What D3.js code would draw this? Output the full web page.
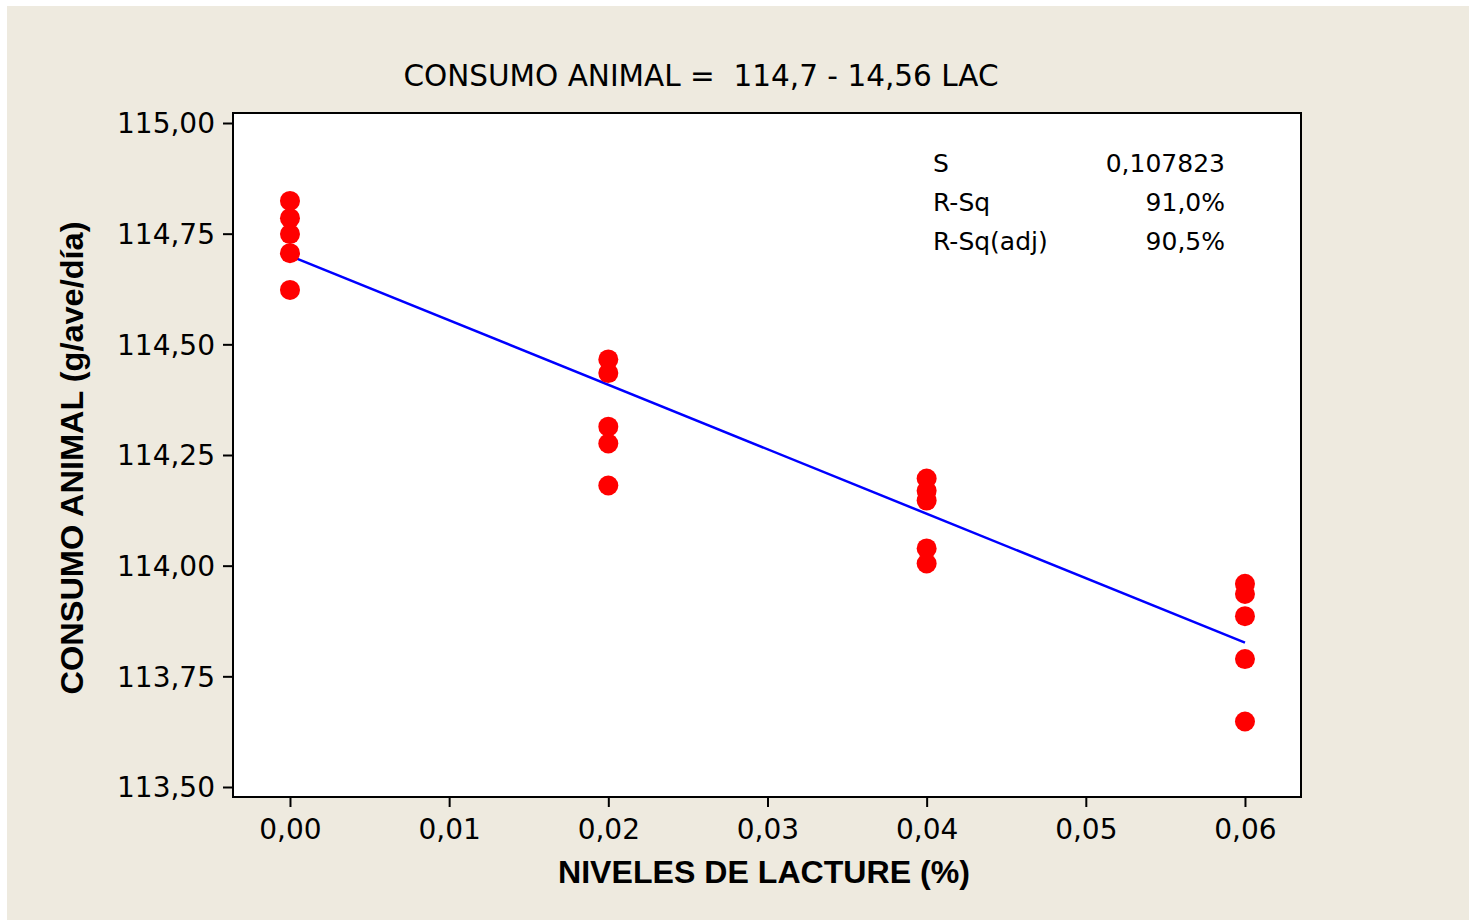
<!DOCTYPE html>
<html>
<head>
<meta charset="utf-8">
<script src="https://cdn.jsdelivr.net/npm/d3@7"></script>
<style>
  body { margin: 0; background: #fff; }
  svg text { font-family: "DejaVu Sans", Verdana, sans-serif; fill: #000; }
  .axis path, .axis line { stroke: #000; stroke-width: 2; }
</style>
</head>
<body>
<div id="chart"></div>
<script>
// niveles de lacture (%) and the five readings at each level
var levels = [0.00, 0.02, 0.04, 0.06];
var consumo = [
  [114.824, 114.785, 114.749, 114.706, 114.623],
  [114.466, 114.435, 114.314, 114.276, 114.181],
  [114.197, 114.169, 114.147, 114.039, 114.005],
  [113.959, 113.936, 113.886, 113.789, 113.648]
];
// fitted line ends: 114,7 - 14,56 LAC
var fitX = [0.00, 0.06];
var fitY = [114.700, 113.826];

var xTicks = [0, 0.01, 0.02, 0.03, 0.04, 0.05, 0.06];
var yTicks = [113.5, 113.75, 114, 114.25, 114.5, 114.75, 115];
var stats = [["S", "0,107823"], ["R-Sq", "91,0%"], ["R-Sq(adj)", "90,5%"]];

var W = 1469, H = 920;
var plot = {L: 233, T: 113, R: 1301, B: 797};

var svg = d3.select("#chart").append("svg")
  .attr("width", W)
  .attr("height", H);

svg.append("rect")
  .attr("x", 7).attr("y", 6)
  .attr("width", W - 7).attr("height", H - 6)
  .style("fill", "#eeeadf");

var x = d3.scaleLinear()
  .domain([-0.00358, 0.06352])
  .range([plot.L, plot.R]);
var y = d3.scaleLinear()
  .domain([113.4774, 115.0226])
  .range([plot.B, plot.T]);

var fmt = function(dec) {
  return function(v) { return v.toFixed(dec).replace(".", ","); };
};

svg.append("rect")
  .attr("x", plot.L).attr("y", plot.T)
  .attr("width", plot.R - plot.L).attr("height", plot.B - plot.T)
  .style("fill", "#fff")
  .style("stroke", "#000")
  .style("stroke-width", 2);

var xAxis = d3.axisBottom(x).tickValues(xTicks).tickFormat(fmt(2))
  .tickSizeInner(10).tickSizeOuter(0).tickPadding(12);
var yAxis = d3.axisLeft(y).tickValues(yTicks).tickFormat(fmt(2))
  .tickSizeInner(10).tickSizeOuter(0).tickPadding(8);

var gx = svg.append("g")
  .attr("class", "axis axis-x")
  .attr("transform", "translate(0," + plot.B + ")")
  .call(xAxis);
gx.select(".domain").remove();
gx.selectAll("text").style("font-size", "28px").style("font-family", null);

var gy = svg.append("g")
  .attr("class", "axis axis-y")
  .attr("transform", "translate(" + plot.L + ",0)")
  .call(yAxis);
gy.select(".domain").remove();
gy.selectAll("text").style("font-size", "28px").style("font-family", null)
  .attr("dy", "0.35em");

// fitted line
var line = d3.line()
  .x(function(d) { return x(d[0]); })
  .y(function(d) { return y(d[1]); });
svg.append("path")
  .datum(d3.zip(fitX, fitY))
  .style("fill", "none")
  .style("stroke", "#0000ff")
  .style("stroke-width", 2.5)
  .attr("d", line);

// observations
var pts = [];
levels.forEach(function(lv, i) {
  consumo[i].forEach(function(v) { pts.push({k: lv, v: v}); });
});
svg.selectAll(".dot").data(pts)
  .enter().append("circle")
  .attr("class", "dot")
  .attr("cx", function(d) { return x(d.k); })
  .attr("cy", function(d) { return y(d.v); })
  .attr("r", 10)
  .style("fill", "#ff0000");

// title
svg.append("text")
  .attr("x", 701).attr("y", 86)
  .attr("text-anchor", "middle")
  .style("font-size", "29.5px")
  .style("white-space", "pre")
  .text("CONSUMO ANIMAL =  114,7 - 14,56 LAC");

// stats box
var st = svg.append("g").style("font-size", "25px");
stats.forEach(function(s, i) {
  st.append("text").attr("x", 933).attr("y", 172 + i * 39).text(s[0]);
  st.append("text").attr("x", 1225).attr("y", 172 + i * 39)
    .attr("text-anchor", "end").text(s[1]);
});

// axis titles
svg.append("text")
  .attr("x", 764).attr("y", 883)
  .attr("text-anchor", "middle")
  .attr("textLength", 412)
  .attr("lengthAdjust", "spacingAndGlyphs")
  .style("font-family", "'Liberation Sans', Arial, sans-serif")
  .style("font-weight", "bold")
  .style("font-size", "31px")
  .text("NIVELES DE LACTURE (%)");

svg.append("text")
  .attr("transform", "translate(83,458) rotate(-90)")
  .attr("text-anchor", "middle")
  .attr("textLength", 473)
  .attr("lengthAdjust", "spacingAndGlyphs")
  .style("font-family", "'Liberation Sans', Arial, sans-serif")
  .style("font-weight", "bold")
  .style("font-size", "31px")
  .text("CONSUMO ANIMAL (g/ave/día)");
</script>
</body>
</html>
